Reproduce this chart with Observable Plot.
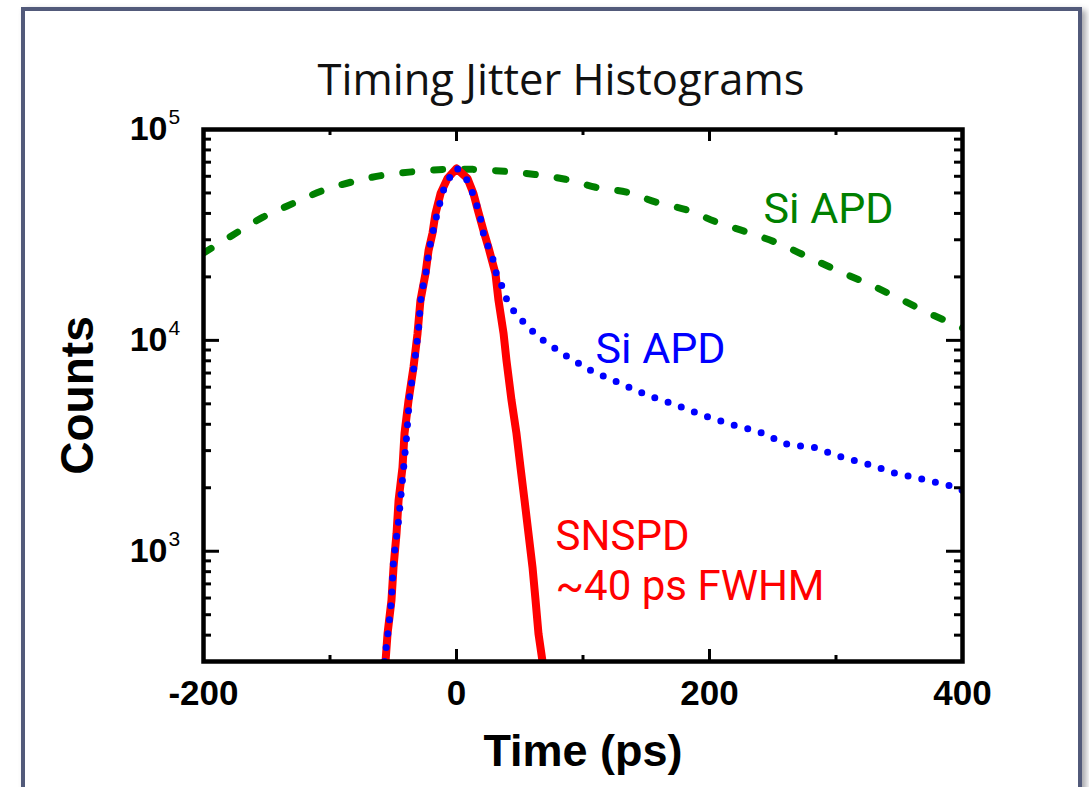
<!DOCTYPE html>
<html><head><meta charset="utf-8">
<script src="https://cdn.jsdelivr.net/npm/d3@7"></script>
<script src="https://cdn.jsdelivr.net/npm/@observablehq/plot@0.6"></script>
<style>
html,body{margin:0;padding:0;background:#fff;}
#wrap{position:relative;width:1089px;height:787px;overflow:hidden;background:#fff;}
#frame{position:absolute;left:21px;top:7px;width:1053px;height:830px;border:4px solid #525a7a;box-shadow:4px 3px 6px rgba(60,60,70,0.45);background:#fff;}
#title{position:absolute;left:561px;top:57px;transform:translateX(-50%);font-family:"Open Sans",sans-serif;font-size:43.5px;line-height:43.5px;white-space:nowrap;color:#111;}
#chart{position:absolute;left:0;top:0;}
</style>
</head><body>
<div id="wrap">
  <div id="frame"></div>
  <div id="title">Timing Jitter Histograms</div>
  <div id="chart"></div>
</div>
<script>
// ---- data ----
// Si APD (broad, green dashed)
const broadTime   = [-200,-177,-153,-129,-105,-81,-58,-32,-9,13,39,62,86,110,135,158,183,206,230,254,278,302,326,349,373,400];
const broadCounts = [25940,31550,38370,44670,51520,56750,60670,63240,64710,64710,63240,61230,58080,53210,50350,45190,41400,36310,32580,28910,24830,21330,18490,15890,13490,11460];
// SNSPD (red solid)
const snspdTime   = [-56.1,-54.5,-51.4,-49.8,-47.4,-45.8,-42.7,-41.1,-37.9,-34.0,-30.8,-28.5,-24.5,-22.1,-19.0,-16.6,-12.6,-7.1,0,8.7,13.4,17.4,21.3,25.3,30.8,33.2,37.2,39.5,43.5,47.4,50.6,53.8,56.9,60.1,62.5,64.8,68.0];
const snspdCounts = [300,407,585,838,1214,1741,2496,3620,5196,7451,10790,15460,20750,26680,32140,39990,49770,58620,65340,58620,49770,40380,33190,27560,20750,15460,10790,8035,5190,3620,2496,1741,1214,838,585,407,300];
// Si APD (blue dotted, with diffusion tail)
const tailTime   = [-56.9,-53.8,-51.4,-49.8,-45.8,-42.7,-39.5,-37.2,-34.0,-30.0,-28.5,-26.9,-24.5,-21.3,-16.6,-11.1,-7.1,0,8.7,12.6,16.6,19.0,21.3,25.3,29.2,31.6,36.4,40.3,46.6,56.9,66.4,86.2,107.5,129.6,151.0,172.3,195.3,217.4,238.7,261.7,283.0,305.1,325.7,347.0,369.2,392.9,400];
const tailCounts = [300,430,585,904,1400,2188,3467,5358,7194,11270,15140,17620,20330,27560,37050,50230,57280,66070,57280,50230,42660,37840,32140,27560,23910,20540,17820,15280,13420,11520,10210,8478,7122,6252,5486,4970,4406,3993,3698,3208,3105,2786,2582,2340,2190,2028,1941];
// axis ticks
const xMajor = [0, 200];
const xMinor = [-100, 100, 300];
const xLabels = [-200, 0, 200, 400];
const yMajor = [1000, 10000, 100000];
const yMinor = [400,500,600,700,800,900,2000,3000,4000,5000,6000,7000,8000,9000,20000,30000,40000,50000,60000,70000,80000,90000];

const broad = broadTime.map((t, i) => ({t, c: broadCounts[i]}));
const snspd = snspdTime.map((t, i) => ({t, c: snspdCounts[i]}));
const tail  = tailTime.map((t, i) => ({t, c: tailCounts[i]}));

const W = 1089, H = 787, mL = 203, mR = 127, mT = 129, mB = 126;
const pw = W - mL - mR, ph = H - mT - mB;
const axisFont = "'Liberation Sans', Arial, sans-serif";
const labFont = "Roboto, 'Open Sans', sans-serif";

const chart = Plot.plot({
  width: W, height: H,
  marginLeft: mL, marginRight: mR, marginTop: mT, marginBottom: mB,
  style: {background: "transparent", overflow: "visible"},
  x: {domain: [-200, 400], axis: null},
  y: {type: "log", domain: [300, 100000], axis: null},
  marks: [
    Plot.line(broad, {x: "t", y: "c", stroke: "#008000", strokeWidth: 7, strokeDasharray: "9 22", strokeLinecap: "round", curve: "catmull-rom", clip: true}),
    Plot.line(snspd, {x: "t", y: "c", stroke: "#ff0000", strokeWidth: 8, strokeLinejoin: "round", clip: true}),
    Plot.line(tail, {x: "t", y: "c", stroke: "#0000ff", strokeWidth: 7, strokeDasharray: "0 14", strokeLinecap: "round", clip: true}),
    // y ticks (inside, left and right)
    Plot.tickY(yMajor, {y: d => d, insetRight: pw - 16, strokeWidth: 3}),
    Plot.tickY(yMajor, {y: d => d, insetLeft: pw - 16, strokeWidth: 3}),
    Plot.tickY(yMinor, {y: d => d, insetRight: pw - 8, strokeWidth: 3}),
    Plot.tickY(yMinor, {y: d => d, insetLeft: pw - 8, strokeWidth: 3}),
    // x ticks (inside, bottom and top)
    Plot.tickX(xMajor, {x: d => d, insetTop: ph - 12, strokeWidth: 3}),
    Plot.tickX(xMajor, {x: d => d, insetBottom: ph - 12, strokeWidth: 3}),
    Plot.tickX(xMinor, {x: d => d, insetTop: ph - 6, strokeWidth: 3}),
    Plot.tickX(xMinor, {x: d => d, insetBottom: ph - 6, strokeWidth: 3}),
    Plot.frame({stroke: "black", strokeWidth: 4.5}),
    // y tick labels 10^n
    Plot.text(yMajor, {y: d => d, text: () => "10", frameAnchor: "left", textAnchor: "end", lineAnchor: "middle", dx: -36, fontSize: 34, fontWeight: "bold", fontFamily: axisFont, fill: "black"}),
    Plot.text(yMajor, {y: d => d, text: d => String(Math.round(Math.log10(d))), frameAnchor: "left", textAnchor: "start", lineAnchor: "middle", dx: -35, dy: -12, fontSize: 21, fontFamily: axisFont, fill: "black"}),
    // x tick labels
    Plot.text(xLabels, {x: d => d, text: d => String(d), frameAnchor: "bottom", textAnchor: "middle", lineAnchor: "middle", dy: 32, fontSize: 35, fontWeight: "bold", fontFamily: axisFont, fill: "black"}),
    // axis titles
    Plot.text(["Counts"], {text: d => d, frameAnchor: "left", textAnchor: "middle", lineAnchor: "middle", dx: -125, rotate: -90, fontSize: 46, fontWeight: "bold", fontFamily: axisFont, fill: "black"}),
    Plot.text(["Time (ps)"], {text: d => d, frameAnchor: "bottom", textAnchor: "middle", lineAnchor: "middle", dy: 90, fontSize: 45, fontWeight: "bold", fontFamily: axisFont, fill: "black"}),
    // curve labels
    Plot.text(["Si APD"], {text: d => d, x: 242.7, y: 36220, textAnchor: "start", lineAnchor: "bottom", fontSize: 43, fontFamily: labFont, fill: "#008000"}),
    Plot.text(["Si APD"], {text: d => d, x: 109.9, y: 7852, textAnchor: "start", lineAnchor: "bottom", fontSize: 43, fontFamily: labFont, fill: "#0000ff"}),
    Plot.text(["SNSPD\n~40 ps FWHM"], {text: d => d, x: 78.3, y: 585, textAnchor: "start", lineAnchor: "bottom", lineHeight: 1.2, fontSize: 42, fontFamily: labFont, fill: "#ff0000"})
  ]
});
document.getElementById("chart").appendChild(chart);
</script>
</body></html>
